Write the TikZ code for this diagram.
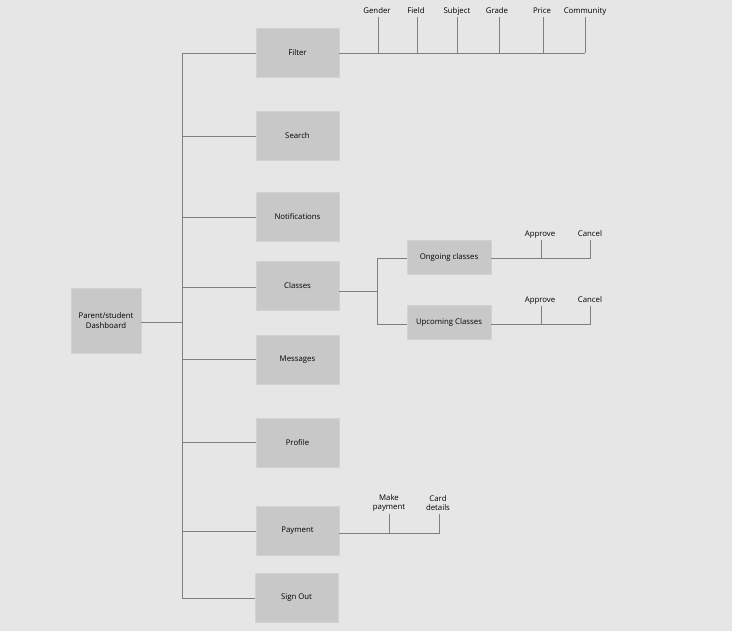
\documentclass[tikz,border=0pt]{standalone}
\usepackage{fontspec}
\setmainfont{Open Sans}
\definecolor{bg}{HTML}{E6E6E6}
\definecolor{boxc}{HTML}{C8C8C8}
\definecolor{boxb}{HTML}{D2D2D2}
\definecolor{linec}{HTML}{7F7F7F}
\begin{document}
\begin{tikzpicture}[x=1pt,y=-1pt,
  box/.style={fill=boxc,draw=boxb,line width=0.6pt,minimum width=83pt,minimum height=49pt,inner sep=0pt,align=center,font=\fontsize{7.8}{9.5}\selectfont},
  sbox/.style={box,minimum width=84pt,minimum height=34pt},
  lbl/.style={inner sep=0pt,align=center,font=\fontsize{7.8}{9.8}\selectfont},
  tlbl/.style={inner sep=0pt,anchor=base,font=\fontsize{7.8}{9.5}\selectfont},
  conn/.style={draw=linec,line width=0.7pt}]
\fill[bg] (0,0) rectangle (732,631);
\useasboundingbox (0,0) rectangle (732,631);
% main nodes
\node[box,minimum width=70pt,minimum height=65pt] (dash) at (106,320.5) {Parent/student\\Dashboard};
\node[box] (filter) at (297.5,52.5) {Filter};
\node[box] (search) at (297.5,135.5) {Search};
\node[box] (notif) at (297.5,216.5) {Notifications};
\node[box] (classes) at (297.5,285.5) {Classes};
\node[box] (msg) at (297.5,359.5) {Messages};
\node[box] (profile) at (297.5,442.5) {Profile};
\node[box] (pay) at (297.5,530.5) {Payment};
\node[box] (signout) at (296.5,597.5) {Sign Out};
% trunk
\coordinate (tTop) at (182,53);
\coordinate (tBot) at (182,598);
\coordinate (tMid) at (182,322);
\draw[conn] (tTop) -- (tBot);
\draw[conn] (dash.east |- tMid) -- (tMid);
\foreach \n/\y in {filter/53,search/136,notif/217,classes/287,msg/359,profile/442,pay/531,signout/598}{
  \draw[conn] (182,\y) -- (\n.west |- 182,\y);
}
% filter options
\foreach \name/\x/\t in {gender/377/Gender,field/416/Field,subject/457/Subject,grade/497/Grade,price/542/Price,community/585/Community}{
  \node[tlbl] (\name) at (\x,13.5) {\t};
}
\foreach \name/\x in {gender/378,field/417,subject/457,grade/499,price/543,community/585}{
  \draw[conn] (\x,17) -- (\x,53);
}
\draw[conn] (filter.east |- 0,53) -- (community.south |- 0,53);
% classes
\node[sbox] (ongoing) at (449,257.5) {Ongoing classes};
\node[sbox] (upcoming) at (449,322) {Upcoming Classes};
\coordinate (cj) at (377,291);
\draw[conn] (classes.east |- cj) -- (cj);
\draw[conn] (377,258) -- (377,324);
\draw[conn] (377,258) -- (ongoing.west |- 0,258);
\draw[conn] (377,324) -- (upcoming.west |- 0,324);
\node[tlbl] (ap1) at (540,236.5) {Approve};
\node[tlbl] (ca1) at (590,236.5) {Cancel};
\node[tlbl] (ap2) at (540,302.5) {Approve};
\node[tlbl] (ca2) at (590,302.5) {Cancel};
\draw[conn] (ongoing.east |- 0,258) -- (590,258) -- (590,240);
\draw[conn] (541,258) -- (541,240);
\draw[conn] (upcoming.east |- 0,324) -- (590,324) -- (590,306);
\draw[conn] (541,324) -- (541,306);
% payment
\node[lbl] (make) at (389,503) {Make\\payment};
\node[lbl] (card) at (438,503) {Card\\details};
\draw[conn] (pay.east |- 0,533) -- (439,533) -- (439,514);
\draw[conn] (389,533) -- (389,514);
\end{tikzpicture}
\end{document}
